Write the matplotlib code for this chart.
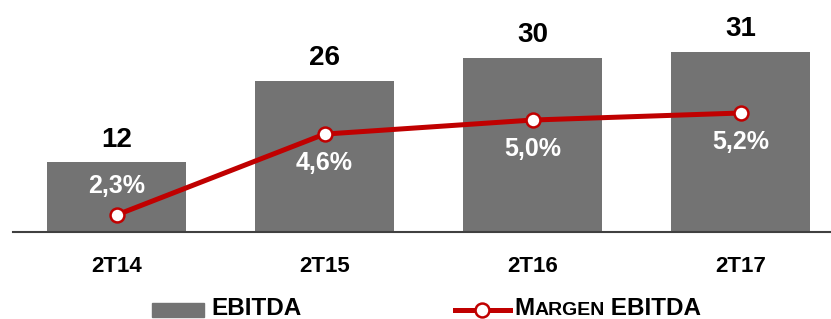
import matplotlib
matplotlib.use("Agg")
import matplotlib.pyplot as plt
from matplotlib.patches import Rectangle
from matplotlib.lines import Line2D

plt.rcParams["font.family"] = ["Liberation Sans", "DejaVu Sans"]

categories = ["2T14", "2T15", "2T16", "2T17"]
ebitda = [12, 26, 30, 31]
margem = [2.3, 4.6, 5.0, 5.2]
margem_labels = ["2,3%", "4,6%", "5,0%", "5,2%"]

BAR_COLOR = "#737373"
LINE_COLOR = "#C00000"

W, H = 831, 319
fig = plt.figure(figsize=(W / 100, H / 100), dpi=100)
ax = fig.add_axes([13 / W, (H - 232) / H, (W - 13) / W, 232 / H])

x = list(range(len(categories)))
ax.bar(x, ebitda, width=0.67, color=BAR_COLOR, zorder=1)
ax.set_xlim(-0.4976, 3.435)
ax.set_ylim(0, 40)

for xi, v in zip(x, ebitda):
    ax.annotate(str(v), (xi, v), xytext=(0, 7), textcoords="offset points",
                ha="center", va="bottom", fontsize=20, fontweight="bold", color="black")

for s in ["top", "right", "left"]:
    ax.spines[s].set_visible(False)
ax.spines["bottom"].set_color("#404040")
ax.spines["bottom"].set_linewidth(1.5)
ax.set_yticks([])
ax.set_xticks(x)
ax.set_xticklabels(categories, fontsize=16, fontweight="bold")
ax.tick_params(axis="x", length=0, pad=17)

ax2 = ax.twinx()
ax2.set_ylim(1.817, 8.413)
ax2.set_yticks([])
for s in ax2.spines.values():
    s.set_visible(False)
ax2.plot(x, margem, color=LINE_COLOR, lw=3.6, marker="o", markersize=10,
         markerfacecolor="white", markeredgecolor=LINE_COLOR, markeredgewidth=1.8,
         clip_on=False, zorder=3)

for i, (xi, v, lab) in enumerate(zip(x, margem, margem_labels)):
    dy = 21 if i == 0 else -21
    ax2.annotate(lab, (xi, v), xytext=(0, dy), textcoords="offset points",
                 ha="center", va="center", fontsize=18, fontweight="bold", color="white")

# legend drawn by hand (small caps in second entry)
def fx(px):
    return px / W

def fy(py):
    return (H - py) / H

fig.patches.append(Rectangle((fx(152), fy(317)), fx(204) - fx(152), fy(303) - fy(317),
                             transform=fig.transFigure, color=BAR_COLOR))
fig.text(fx(211), fy(315), "EBITDA", fontsize=17.5, fontweight="bold", va="baseline", ha="left")

fig.lines.append(Line2D([fx(455), fx(510)], [fy(310), fy(310)], transform=fig.transFigure,
                        color=LINE_COLOR, lw=3.6))
fig.lines.append(Line2D([fx(482)], [fy(310)], transform=fig.transFigure, marker="o",
                        markersize=10, markerfacecolor="white", markeredgecolor=LINE_COLOR,
                        markeredgewidth=1.8))

fig.canvas.draw()
renderer = fig.canvas.get_renderer()
t1 = fig.text(fx(514), fy(315), "M", fontsize=17.5, fontweight="bold", va="baseline", ha="left")
bb = t1.get_window_extent(renderer)
t2 = fig.text(bb.x1 / W, fy(315), "ARGEN", fontsize=14, fontweight="bold", va="baseline", ha="left")
bb = t2.get_window_extent(renderer)
fig.text(bb.x1 / W, fy(315), " EBITDA", fontsize=17.5, fontweight="bold", va="baseline", ha="left")

fig.savefig("out.png", dpi=100)
